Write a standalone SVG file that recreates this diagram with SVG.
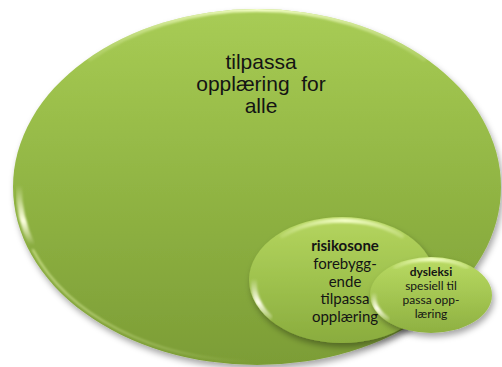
<svg xmlns="http://www.w3.org/2000/svg" width="502" height="367" viewBox="0 0 502 367">
  <defs>
    <style>
      .big-label { font-family: "Liberation Sans", Arial, sans-serif; font-size: 21px; fill: #141414; text-anchor: middle; }
      .mid-label { font-family: Lato, "Open Sans", sans-serif; font-size: 15px; fill: #141414; text-anchor: middle; }
      .small-label { font-family: Lato, "Open Sans", sans-serif; font-size: 12px; fill: #141414; text-anchor: middle; }
      .head { font-weight: bold; }
      .gloss { fill: none; stroke-linecap: round; filter: url(#soft); }
    </style>
    <linearGradient id="fillBig" x1="0" y1="0" x2="0" y2="1">
      <stop offset="0" stop-color="#a8cc55"/>
      <stop offset="0.45" stop-color="#93b745"/>
      <stop offset="1" stop-color="#7c9d36"/>
    </linearGradient>
    <linearGradient id="fillMid" x1="0" y1="0" x2="0" y2="1">
      <stop offset="0" stop-color="#b5d55f"/>
      <stop offset="0.5" stop-color="#9fc24e"/>
      <stop offset="1" stop-color="#8aac3e"/>
    </linearGradient>
    <linearGradient id="fillSmall" x1="0" y1="0" x2="0" y2="1">
      <stop offset="0" stop-color="#badb63"/>
      <stop offset="0.5" stop-color="#a4c652"/>
      <stop offset="1" stop-color="#8eb041"/>
    </linearGradient>
    <!-- top sheen, fades out toward both sides -->
    <linearGradient id="sheenBig" gradientUnits="userSpaceOnUse" x1="60" y1="0" x2="460" y2="0">
      <stop offset="0" stop-color="#f4ffc8" stop-opacity="0"/>
      <stop offset="0.5" stop-color="#f4ffc8" stop-opacity="1"/>
      <stop offset="1" stop-color="#f4ffc8" stop-opacity="0"/>
    </linearGradient>
    <linearGradient id="sheenMid" gradientUnits="userSpaceOnUse" x1="270" y1="0" x2="420" y2="0">
      <stop offset="0" stop-color="#f4ffc8" stop-opacity="0"/>
      <stop offset="0.5" stop-color="#f4ffc8" stop-opacity="1"/>
      <stop offset="1" stop-color="#f4ffc8" stop-opacity="0"/>
    </linearGradient>
    <linearGradient id="sheenSmall" gradientUnits="userSpaceOnUse" x1="385" y1="0" x2="480" y2="0">
      <stop offset="0" stop-color="#f4ffc8" stop-opacity="0"/>
      <stop offset="0.5" stop-color="#f4ffc8" stop-opacity="1"/>
      <stop offset="1" stop-color="#f4ffc8" stop-opacity="0"/>
    </linearGradient>
    <!-- lower-left glints -->
    <linearGradient id="glintBig" gradientUnits="userSpaceOnUse" x1="0" y1="185" x2="0" y2="245">
      <stop offset="0" stop-color="#fdffe0" stop-opacity="0"/>
      <stop offset="0.6" stop-color="#fdffe0" stop-opacity="1"/>
      <stop offset="1" stop-color="#fdffe0" stop-opacity="0"/>
    </linearGradient>
    <linearGradient id="glintMid" gradientUnits="userSpaceOnUse" x1="0" y1="278" x2="0" y2="322">
      <stop offset="0" stop-color="#ffffee" stop-opacity="0"/>
      <stop offset="0.55" stop-color="#ffffee" stop-opacity="1"/>
      <stop offset="1" stop-color="#ffffee" stop-opacity="0"/>
    </linearGradient>
    <linearGradient id="glintSmall" gradientUnits="userSpaceOnUse" x1="0" y1="292" x2="0" y2="322">
      <stop offset="0" stop-color="#ffffee" stop-opacity="0"/>
      <stop offset="0.55" stop-color="#ffffee" stop-opacity="1"/>
      <stop offset="1" stop-color="#ffffee" stop-opacity="0"/>
    </linearGradient>
    <linearGradient id="rimRight" gradientUnits="userSpaceOnUse" x1="0" y1="90" x2="0" y2="290">
      <stop offset="0" stop-color="#e9f7b4" stop-opacity="0"/>
      <stop offset="0.5" stop-color="#e9f7b4" stop-opacity="0.9"/>
      <stop offset="1" stop-color="#e9f7b4" stop-opacity="0"/>
    </linearGradient>
    <linearGradient id="rimLow" gradientUnits="userSpaceOnUse" x1="30" y1="0" x2="250" y2="0">
      <stop offset="0" stop-color="#e4f4a8" stop-opacity="0.7"/>
      <stop offset="1" stop-color="#e4f4a8" stop-opacity="0"/>
    </linearGradient>
    <filter id="shadow" x="-10%" y="-10%" width="125%" height="130%">
      <feDropShadow dx="2" dy="4" stdDeviation="3" flood-color="#000" flood-opacity="0.35"/>
    </filter>
    <filter id="soft" x="-20%" y="-20%" width="140%" height="140%">
      <feGaussianBlur stdDeviation="1.2"/>
    </filter>
    <clipPath id="clipBig"><ellipse cx="257" cy="187" rx="244" ry="178"/></clipPath>
    <clipPath id="clipMid"><ellipse cx="342" cy="280" rx="93" ry="63"/></clipPath>
    <clipPath id="clipSmall"><ellipse cx="431" cy="295" rx="61" ry="38"/></clipPath>
  </defs>

  <rect width="502" height="367" fill="#ffffff"/>

  <g id="connectors"/>

  <!-- outer set: everyone -->
  <g id="node-alle">
    <ellipse cx="257" cy="187" rx="244" ry="178" fill="url(#fillBig)" filter="url(#shadow)"/>
    <g clip-path="url(#clipBig)">
      <path class="gloss" d="M 90 58 A 238 171 0 0 1 424 58" stroke="url(#sheenBig)" stroke-width="6"/>
      <path class="gloss" d="M 19 186 A 238 172 0 0 0 32 245" stroke="url(#glintBig)" stroke-width="6"/>
      <path class="gloss" d="M 33 250 A 239 173 0 0 0 250 361" stroke="url(#rimLow)" stroke-width="2"/>
      <path class="gloss" d="M 478 100 A 240 174 0 0 1 470 280" stroke="url(#rimRight)" stroke-width="2.5"/>
    </g>
    <text class="big-label" x="261" y="69">tilpassa</text>
    <text class="big-label" x="261" y="91" xml:space="preserve">opplæring  for</text>
    <text class="big-label" x="261" y="113">alle</text>
  </g>

  <!-- risk zone -->
  <g id="node-risikosone">
    <ellipse cx="342" cy="280" rx="93" ry="63" fill="url(#fillMid)" filter="url(#shadow)"/>
    <g clip-path="url(#clipMid)">
      <path class="gloss" d="M 282 236 A 89 59 0 0 1 402 236" stroke="url(#sheenMid)" stroke-width="4.5"/>
      <path class="gloss" d="M 254 282 A 89 59 0 0 0 269 317" stroke="url(#glintMid)" stroke-width="6"/>
    </g>
    <text class="mid-label head" x="345" y="251">risikosone</text>
    <text class="mid-label" x="345" y="269">forebygg-</text>
    <text class="mid-label" x="345" y="287">ende</text>
    <text class="mid-label" x="345" y="304">tilpassa</text>
    <text class="mid-label" x="345" y="322">opplæring</text>
  </g>

  <!-- dyslexia -->
  <g id="node-dysleksi">
    <ellipse cx="431" cy="295" rx="61" ry="38" fill="url(#fillSmall)" filter="url(#shadow)"/>
    <g clip-path="url(#clipSmall)">
      <path class="gloss" d="M 395 267 A 57 34 0 0 1 467 267" stroke="url(#sheenSmall)" stroke-width="4"/>
      <path class="gloss" d="M 374 295 A 57 34 0 0 0 387 319" stroke="url(#glintSmall)" stroke-width="5"/>
    </g>
    <text class="small-label head" x="431" y="276">dysleksi</text>
    <text class="small-label" x="431" y="290">spesiell til</text>
    <text class="small-label" x="431" y="304">passa opp-</text>
    <text class="small-label" x="431" y="318">læring</text>
  </g>
</svg>
